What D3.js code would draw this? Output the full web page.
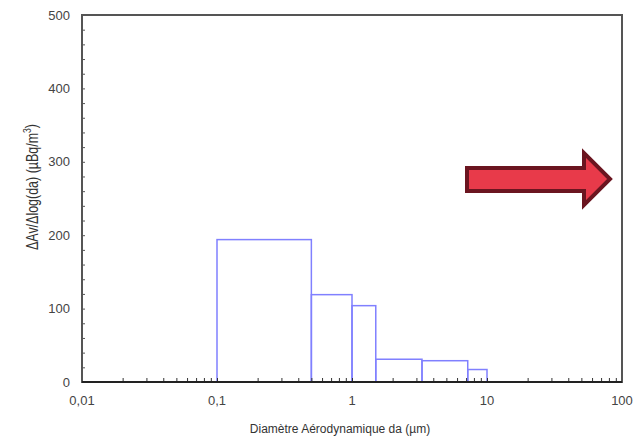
<!DOCTYPE html>
<html>
<head>
<meta charset="utf-8">
<script src="https://cdn.jsdelivr.net/npm/d3@7"></script>
<style>
  body { margin: 0; background: #fff; }
  text { font-family: 'Liberation Sans', Arial, sans-serif; }
</style>
</head>
<body>
<script>
// Stage boundaries (µm) and activity per stage.
const binEdges = [0.1, 0.5, 1, 1.5, 3.3, 7.2, 10];
const binValues = [194, 119, 104, 31, 29, 17];
const xTickValues = [0.01, 0.1, 1, 10, 100];
const xTickLabels = ['0,01', '0,1', '1', '10', '100'];
const yTickValues = [0, 100, 200, 300, 400, 500];

const width = 635;
const height = 438;
const margin = {top: 15, right: 13, bottom: 56, left: 82};

const xScale = d3.scaleLog()
  .domain([0.01, 100])
  .range([margin.left, width - margin.right]);
const yScale = d3.scaleLinear()
  .domain([0, 500])
  .range([height - margin.bottom, margin.top]);

const svg = d3.select('body')
  .append('svg')
  .attr('width', width)
  .attr('height', height);

// Bars.
const bins = binValues.map((v, i) => ({x0: binEdges[i], x1: binEdges[i + 1], v: v}));
svg.selectAll('rect.bin')
  .data(bins)
  .enter()
  .append('rect')
  .attr('class', 'bin')
  .attr('x', (d) => xScale(d.x0))
  .attr('y', (d) => yScale(d.v))
  .attr('width', (d) => xScale(d.x1) - xScale(d.x0))
  .attr('height', (d) => yScale(0) - yScale(d.v))
  .attr('fill', 'none')
  .attr('stroke', '#8080ff')
  .attr('stroke-width', 1.5);

// Minor ticks, drawn inside the frame.
const xMinor = [];
[0.01, 0.1, 1, 10].forEach((dec) => {
  for (let k = 1; k <= 9; k++) xMinor.push(dec * k);
});
xMinor.push(100);
const xAxis = d3.axisTop(xScale)
  .tickValues(xMinor)
  .tickSize(4)
  .tickFormat('');
svg.append('g')
  .attr('transform', 'translate(0,' + yScale(0) + ')')
  .call(xAxis)
  .call((g) => g.select('.domain').remove())
  .selectAll('line')
  .attr('stroke', '#333');

const yAxis = d3.axisRight(yScale)
  .ticks(25)
  .tickSize(3)
  .tickFormat('');
svg.append('g')
  .attr('transform', 'translate(' + xScale(0.01) + ',0)')
  .call(yAxis)
  .call((g) => g.select('.domain').remove())
  .selectAll('line')
  .attr('stroke', '#555');

// Frame.
svg.append('rect')
  .attr('x', xScale(0.01))
  .attr('y', yScale(500))
  .attr('width', xScale(100) - xScale(0.01))
  .attr('height', yScale(0) - yScale(500))
  .attr('fill', 'none')
  .attr('stroke', '#555')
  .attr('stroke-width', 2);
svg.append('line')
  .attr('x1', xScale(0.01)).attr('x2', xScale(100))
  .attr('y1', yScale(0)).attr('y2', yScale(0))
  .attr('stroke', '#222')
  .attr('stroke-width', 2);

// Tick labels.
svg.selectAll('text.ylab')
  .data(yTickValues)
  .enter()
  .append('text')
  .attr('class', 'ylab')
  .attr('x', 70)
  .attr('y', (d) => yScale(d))
  .attr('dy', '0.35em')
  .attr('text-anchor', 'end')
  .attr('font-size', 13)
  .attr('fill', '#444')
  .text((d) => d);

svg.selectAll('text.xlab')
  .data(xTickValues)
  .enter()
  .append('text')
  .attr('class', 'xlab')
  .attr('x', (d) => xScale(d))
  .attr('y', 400)
  .attr('dy', '0.35em')
  .attr('text-anchor', 'middle')
  .attr('font-size', 13)
  .attr('fill', '#444')
  .text((d, i) => xTickLabels[i]);

// Axis titles.
svg.append('text')
  .attr('x', 340)
  .attr('y', 429)
  .attr('dy', '0.35em')
  .attr('text-anchor', 'middle')
  .attr('font-size', 12)
  .attr('fill', '#333')
  .text('Diamètre Aérodynamique da (µm)');

// condensed look, like the original narrow font
const yTitle = svg.append('text')
  .attr('transform', 'translate(32,187) rotate(-90) scale(0.78,1)')
  .attr('dy', '0.35em')
  .attr('text-anchor', 'middle')
  .attr('font-size', 16)
  .attr('fill', '#333');
yTitle.append('tspan').text('ΔAv/Δlog(da) (µBq/m');
yTitle.append('tspan').attr('font-size', 11).attr('dy', '-0.6em').text('3');
yTitle.append('tspan').attr('dy', '0.4em').text(')');

// Arrow.
svg.append('path')
  .attr('d', 'M467,168 L584,168 L584,153 L610,179 L584,205 L584,191 L467,191 Z')
  .attr('fill', '#e83a4a')
  .attr('stroke', '#6b1520')
  .attr('stroke-width', 4)
  .attr('stroke-linejoin', 'miter');
</script>
</body>
</html>
